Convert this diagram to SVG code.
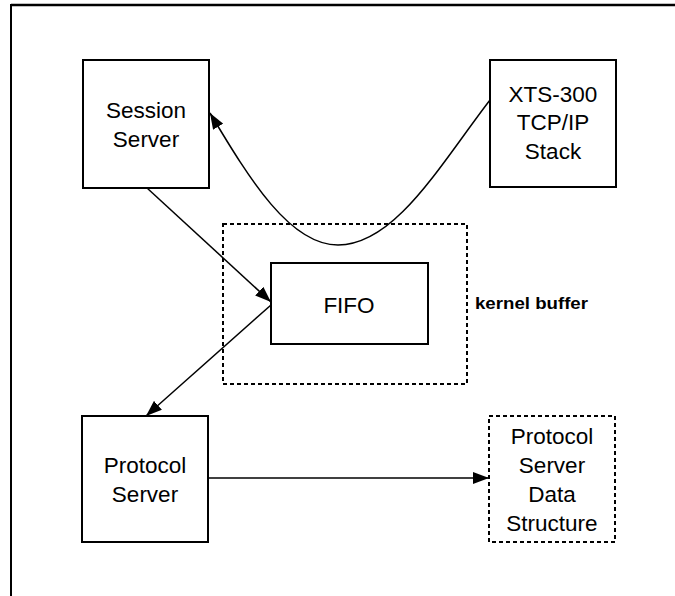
<svg xmlns="http://www.w3.org/2000/svg" width="675" height="596" viewBox="0 0 675 596">
<style>
.box{fill:#fff;stroke:#000;stroke-width:2}
.dash{fill:none;stroke:#000;stroke-width:2;stroke-dasharray:4,3}
.lbl{font-family:"Liberation Sans",Arial,sans-serif;font-size:22.5px;text-anchor:middle;fill:#000}
.kb{font-family:"Liberation Sans",Arial,sans-serif;font-size:17px;font-weight:bold;fill:#000}
.conn{fill:none;stroke:#000;stroke-width:1.5}
</style>
<defs>
<marker id="arr" viewBox="0 0 16 12" refX="16" refY="6" markerWidth="16" markerHeight="12" markerUnits="userSpaceOnUse" orient="auto">
<path d="M0,0 L16,6 L0,12 Z" fill="#000"/>
</marker>
</defs>
<rect width="675" height="596" fill="#fff"/>
<g id="frame" fill="none" stroke="#000">
<line x1="11" y1="5" x2="675" y2="5" stroke-width="2.5"/>
<line x1="11" y1="4" x2="11" y2="596" stroke-width="2"/>
</g>
<g id="kernel-buffer">
<rect class="dash" x="223" y="224" width="244" height="160"/>
<text class="kb" x="475" y="309" textLength="113" lengthAdjust="spacingAndGlyphs">kernel buffer</text>
</g>
<g id="session-server">
<rect class="box" x="83" y="60" width="126" height="128"/>
<text class="lbl" x="146" y="118">Session</text>
<text class="lbl" x="146" y="147">Server</text>
</g>
<g id="xts-300">
<rect class="box" x="490" y="60" width="126" height="127"/>
<text class="lbl" x="553" y="102">XTS-300</text>
<text class="lbl" x="553" y="130">TCP/IP</text>
<text class="lbl" x="553" y="159">Stack</text>
</g>
<g id="fifo">
<rect class="box" x="271" y="263" width="157" height="81"/>
<text class="lbl" x="349" y="313">FIFO</text>
</g>
<g id="protocol-server">
<rect class="box" x="82" y="416" width="126" height="126"/>
<text class="lbl" x="145" y="473">Protocol</text>
<text class="lbl" x="145" y="502">Server</text>
</g>
<g id="protocol-server-data-structure">
<rect class="dash" x="489" y="416" width="126" height="126"/>
<text class="lbl" x="552" y="444">Protocol</text>
<text class="lbl" x="552" y="473">Server</text>
<text class="lbl" x="552" y="502">Data</text>
<text class="lbl" x="552" y="531">Structure</text>
</g>
<g id="connectors">
<path class="conn" d="M147,188 L271,302" marker-end="url(#arr)"/>
<path class="conn" d="M271,305 L146,416" marker-end="url(#arr)"/>
<path class="conn" d="M208,478 L489,478" marker-end="url(#arr)"/>
<path class="conn" d="M490,100 C440,165 395,245 338,245 C290,245 250,180 210,113" marker-end="url(#arr)"/>
</g>
</svg>
